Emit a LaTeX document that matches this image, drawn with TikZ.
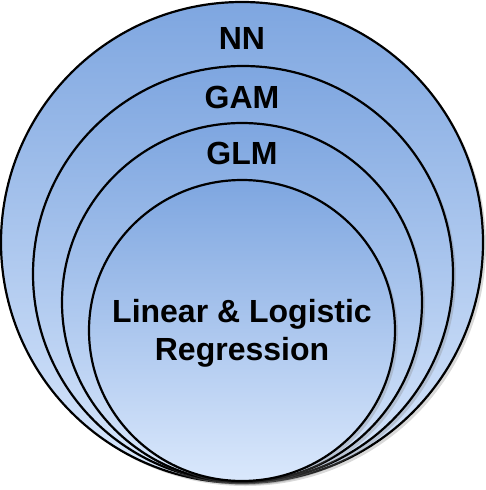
\documentclass[tikz,border=0pt]{standalone}
\usepackage{fontspec}
\setmainfont{Liberation Sans}
\usetikzlibrary{shapes.geometric,shadows,positioning}
\definecolor{blueTop}{HTML}{7EA6E0}
\definecolor{blueBot}{HTML}{DAE8FC}
\tikzset{
	ring/.style={ellipse, draw=black, line width=2.2pt, inner sep=0pt, outer sep=0pt,
		top color=blueTop, bottom color=blueBot,
		drop shadow={shadow xshift=3pt, shadow yshift=-3pt, opacity=0.3, fill=gray}},
	lbl/.style={font=\bfseries\fontsize{32}{38}\selectfont, align=center, inner sep=0pt}
}
\begin{document}
\begin{tikzpicture}[x=1pt,y=-1pt]
\useasboundingbox (0,0) rectangle (486,490);
\node[ring, minimum width=482pt, minimum height=481pt] (nn) at (242,242.5) {};
\node[ring, minimum width=420pt, minimum height=416pt] (gam) at (243,274) {};
\node[ring, minimum width=360pt, minimum height=359pt] (glm) at (242,302.5) {};
\node[ring, minimum width=306pt, minimum height=301pt] (lin) at (242,330.5) {};
% labels
\node[lbl] (nnText) at (242,38) {NN};
\node[lbl] (gamText) at (242,97) {GAM};
\node[lbl] (glmText) at (242,153) {GLM};
\node[lbl] (linText) at (242,333) {Linear \& Logistic\\Regression};
\end{tikzpicture}
\end{document}
